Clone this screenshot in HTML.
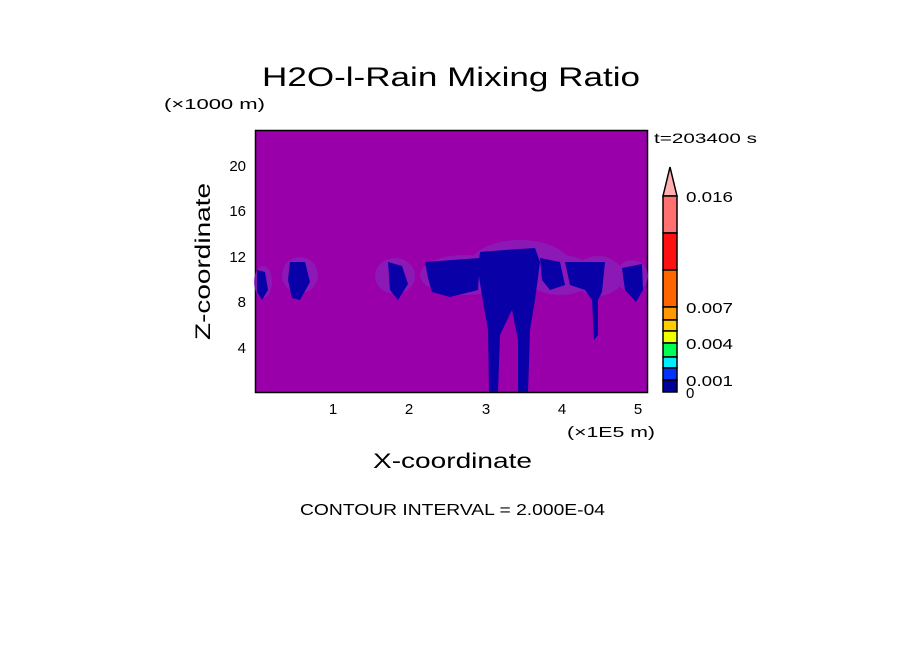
<!DOCTYPE html>
<html><head><meta charset="utf-8"><style>
body{margin:0;background:#fff;}
svg{display:block;font-family:"Liberation Sans",sans-serif;}
</style></head><body>
<svg width="904" height="654" viewBox="0 0 904 654" xmlns="http://www.w3.org/2000/svg">
<text x="262" y="86" font-size="27" textLength="378" lengthAdjust="spacingAndGlyphs" fill="#000">H2O-l-Rain Mixing Ratio</text>
<text x="164" y="109" font-size="15" textLength="101" lengthAdjust="spacingAndGlyphs" fill="#000">(×1000 m)</text>
<rect x="255.5" y="130.5" width="392" height="262" fill="#9900aa" stroke="#000" stroke-width="1.5"/>
<g fill="#8a1fb8" opacity="0.8">
<ellipse cx="263" cy="282" rx="9" ry="16"/>
<ellipse cx="300" cy="275" rx="18" ry="18"/>
<ellipse cx="395" cy="276" rx="20" ry="18"/>
<ellipse cx="465" cy="275" rx="45" ry="20"/>
<ellipse cx="520" cy="265" rx="50" ry="25"/>
<ellipse cx="560" cy="275" rx="35" ry="20"/>
<ellipse cx="598" cy="276" rx="25" ry="20"/>
<ellipse cx="632" cy="276" rx="16" ry="16"/>
</g>
<g fill="#0a00a8">
<path d="M257 270 L265 272 L268 290 L262 300 L257 292Z"/>
<path d="M290 262 L305 262 L310 282 L300 300 L292 298 L288 280Z"/>
<path d="M388 262 L402 266 L408 284 L398 300 L390 290Z"/>
<path d="M425 262 L480 258 L478 290 L450 297 L432 292 L428 278Z"/>
<path d="M480 252 L505 250 L535 248 L540 262 L535 300 L530 330 L528 392 L518 392 L518 340 L512 310 L500 335 L498 392 L489 392 L488 330 L482 296 L478 270Z"/>
<path d="M540 258 L560 262 L565 285 L550 290 L542 280Z"/>
<path d="M565 262 L605 262 L602 292 L598 300 L598 335 L594 340 L592 300 L585 290 L570 285Z"/>
<path d="M622 268 L642 264 L643 290 L636 302 L625 290Z"/>
</g>
<g font-size="15" fill="#000" text-anchor="end">
<text x="246" y="171">20</text><text x="246" y="216">16</text><text x="246" y="262">12</text>
<text x="246" y="307">8</text><text x="246" y="353">4</text>
</g>
<g font-size="15" fill="#000" text-anchor="middle">
<text x="333" y="414">1</text><text x="409" y="414">2</text><text x="486" y="414">3</text>
<text x="562" y="414">4</text><text x="638" y="414">5</text>
</g>
<text x="567" y="437" font-size="15" textLength="88" lengthAdjust="spacingAndGlyphs" fill="#000">(×1E5 m)</text>
<text x="373" y="468" font-size="21" textLength="159" lengthAdjust="spacingAndGlyphs" fill="#000">X-coordinate</text>
<text x="0" y="0" font-size="21" textLength="157" lengthAdjust="spacingAndGlyphs" fill="#000" transform="translate(210 340) rotate(-90)">Z-coordinate</text>
<text x="300" y="515" font-size="16" textLength="305" lengthAdjust="spacingAndGlyphs" fill="#000">CONTOUR INTERVAL = 2.000E-04</text>
<text x="654" y="143" font-size="14" textLength="103" lengthAdjust="spacingAndGlyphs" fill="#000">t=203400 s</text>
<g stroke="#000" stroke-width="1.5">
<path d="M663 196 L670 167 L677 196Z" fill="#ffb0b0"/>
<rect x="663" y="196" width="14" height="37" fill="#ff7070"/>
<rect x="663" y="233" width="14" height="37" fill="#ff1010"/>
<rect x="663" y="270" width="14" height="37" fill="#ff6600"/>
<rect x="663" y="307" width="14" height="13" fill="#ff9900"/>
<rect x="663" y="320" width="14" height="11" fill="#ffcc00"/>
<rect x="663" y="331" width="14" height="12" fill="#eeff00"/>
<rect x="663" y="343" width="14" height="14" fill="#00ff55"/>
<rect x="663" y="357" width="14" height="11" fill="#00eeff"/>
<rect x="663" y="368" width="14" height="12" fill="#0033ff"/>
<rect x="663" y="380" width="14" height="12" fill="#000099"/>
</g>
<g font-size="15" fill="#000">
<text x="686" y="202" textLength="47" lengthAdjust="spacingAndGlyphs">0.016</text><text x="686" y="313" textLength="47" lengthAdjust="spacingAndGlyphs">0.007</text>
<text x="686" y="349" textLength="47" lengthAdjust="spacingAndGlyphs">0.004</text><text x="686" y="386" textLength="47" lengthAdjust="spacingAndGlyphs">0.001</text><text x="686" y="398">0</text>
</g>
</svg>
</body></html>
